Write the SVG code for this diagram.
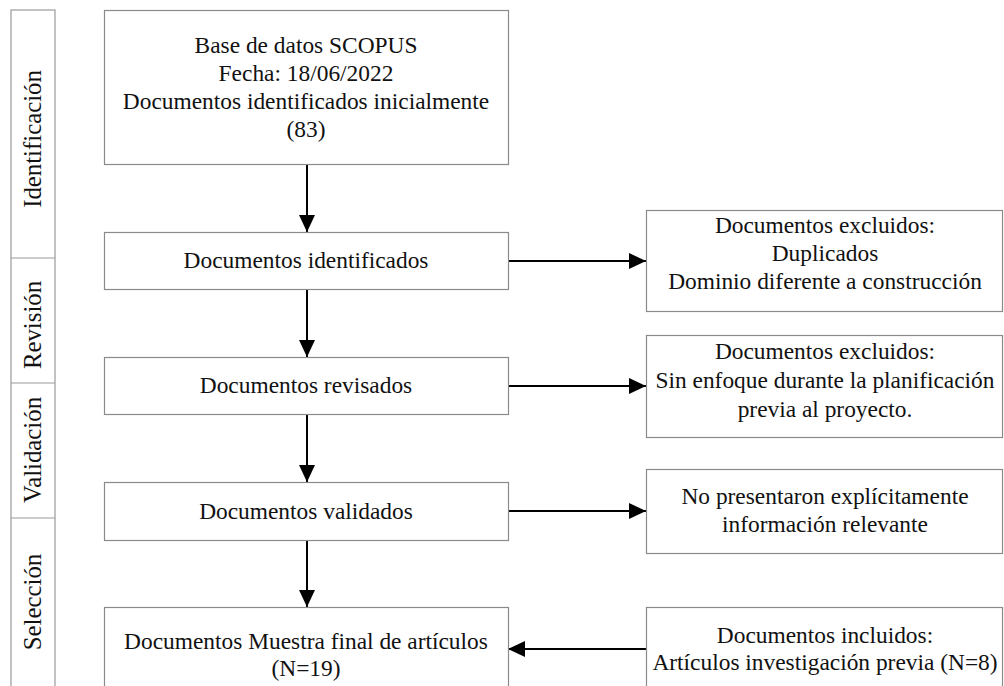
<svg xmlns="http://www.w3.org/2000/svg" width="1004" height="686" viewBox="0 0 1004 686">
<style>
.box{fill:#fff;stroke:#8a8a8a;stroke-width:1.2}
.ph{fill:none;stroke:#9a9a9a;stroke-width:1.2}
.t{font-family:"Liberation Serif","Times New Roman",serif;font-size:23.4px;fill:#111;text-anchor:middle}
.v{font-family:"Liberation Serif","Times New Roman",serif;font-size:24.8px;fill:#111;text-anchor:middle}
.c{stroke:#000;stroke-width:2;fill:none}
</style>
<defs>
<marker id="ah" viewBox="0 0 17 16" refX="17" refY="8" markerWidth="17" markerHeight="16" markerUnits="userSpaceOnUse" orient="auto">
<path d="M0,0 L17,8 L0,16 Z" fill="#000"/>
</marker>
</defs>
<rect width="1004" height="686" fill="#fff"/>
<g id="phases">
<rect class="ph" x="11" y="10" width="44" height="700"/>
<line class="ph" x1="11" y1="258" x2="55" y2="258"/>
<line class="ph" x1="11" y1="383" x2="55" y2="383"/>
<line class="ph" x1="11" y1="518" x2="55" y2="518"/>
<text class="v" transform="translate(41,139) rotate(-90)">Identificación</text>
<text class="v" transform="translate(41,325) rotate(-90)">Revisión</text>
<text class="v" transform="translate(41,450) rotate(-90)">Validación</text>
<text class="v" transform="translate(41,602) rotate(-90)">Selección</text>
</g>
<g id="connectors">
<line class="c" x1="307" y1="164" x2="307" y2="232" marker-end="url(#ah)"/>
<line class="c" x1="307" y1="289" x2="307" y2="357" marker-end="url(#ah)"/>
<line class="c" x1="307" y1="414" x2="307" y2="482" marker-end="url(#ah)"/>
<line class="c" x1="307" y1="540" x2="307" y2="607" marker-end="url(#ah)"/>
<line class="c" x1="508" y1="261" x2="646" y2="261" marker-end="url(#ah)"/>
<line class="c" x1="508" y1="386" x2="646" y2="386" marker-end="url(#ah)"/>
<line class="c" x1="508" y1="511" x2="646" y2="511" marker-end="url(#ah)"/>
<line class="c" x1="646" y1="649" x2="508" y2="649" marker-end="url(#ah)"/>
</g>
<g id="n1">
<rect class="box" x="104.5" y="10.5" width="404" height="154"/>
<text class="t" x="306" y="53">Base de datos SCOPUS</text>
<text class="t" x="306" y="81">Fecha: 18/06/2022</text>
<text class="t" x="306" y="109">Documentos identificados inicialmente</text>
<text class="t" x="306" y="137">(83)</text>
</g>
<g id="n2">
<rect class="box" x="104.5" y="232.5" width="404" height="57"/>
<text class="t" x="306" y="268">Documentos identificados</text>
</g>
<g id="n3">
<rect class="box" x="104.5" y="357.5" width="404" height="57"/>
<text class="t" x="306" y="393">Documentos revisados</text>
</g>
<g id="n4">
<rect class="box" x="104.5" y="482.5" width="404" height="58"/>
<text class="t" x="306" y="519">Documentos validados</text>
</g>
<g id="n5">
<rect class="box" x="104.5" y="607.5" width="404" height="100"/>
<text class="t" x="306" y="649">Documentos Muestra final de artículos</text>
<text class="t" x="306" y="676">(N=19)</text>
</g>
<g id="r1">
<rect class="box" x="646.5" y="210.5" width="356" height="101"/>
<text class="t" x="825" y="233">Documentos excluidos:</text>
<text class="t" x="825" y="261">Duplicados</text>
<text class="t" x="825" y="289">Dominio diferente a construcción</text>
</g>
<g id="r2">
<rect class="box" x="646.5" y="335.5" width="356" height="102"/>
<text class="t" x="825" y="359">Documentos excluidos:</text>
<text class="t" x="825" y="388">Sin enfoque durante la planificación</text>
<text class="t" x="825" y="417">previa al proyecto.</text>
</g>
<g id="r3">
<rect class="box" x="646.5" y="469.5" width="356" height="84"/>
<text class="t" x="825" y="504">No presentaron explícitamente</text>
<text class="t" x="825" y="532">información relevante</text>
</g>
<g id="r4">
<rect class="box" x="646.5" y="607.5" width="356" height="100"/>
<text class="t" x="825" y="643">Documentos incluidos:</text>
<text class="t" x="825" y="670">Artículos investigación previa (N=8)</text>
</g>
</svg>
